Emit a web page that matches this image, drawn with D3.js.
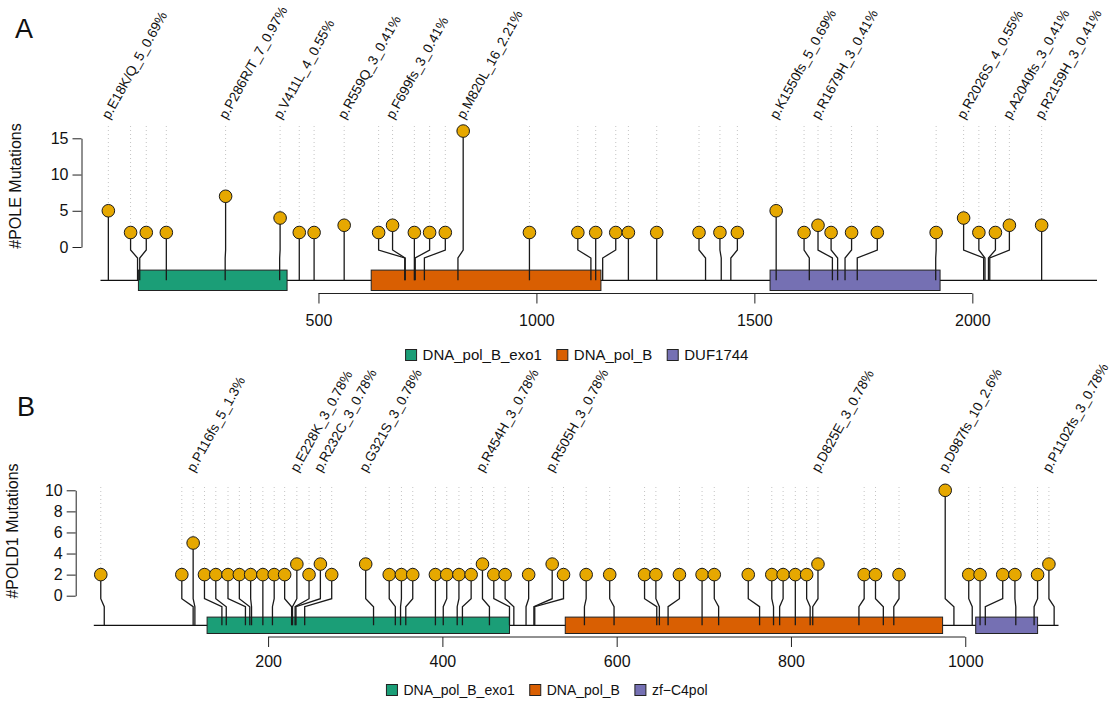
<!DOCTYPE html>
<html>
<head>
<meta charset="utf-8">
<script src="https://cdn.jsdelivr.net/npm/d3@7"></script>
<style>
  body { margin: 0; background: #fff; }
  svg { display: block; font-family: 'Liberation Sans', Arial, sans-serif; }
</style>
</head>
<body>
<svg id="chart" width="1109" height="704"></svg>
<script>
// ---- POLE ----
const poleLength = 2286
const polePos = [18, 85, 90, 151, 286, 411, 456, 490, 559, 698, 699, 720, 722, 743, 820, 984, 1125, 1136, 1152, 1211, 1276, 1388, 1424, 1446, 1550, 1626, 1679, 1691, 1708, 1736, 1916, 2026, 2029, 2037, 2040, 2159]
// where the lollipop head sits after repelling (amino-acid units)
const poleShown = [18, 69, 105, 151, 287, 412, 456, 490, 559, 638, 670, 720, 755, 791, 832, 984, 1095, 1136, 1182, 1211, 1276, 1373, 1421, 1461, 1550, 1614, 1646, 1676, 1723, 1782, 1917, 1980, 2015, 2053, 2085, 2159]
const poleCount = [5, 2, 2, 2, 7, 4, 2, 2, 3, 2, 3, 2, 2, 2, 16, 2, 2, 2, 2, 2, 2, 2, 2, 2, 5, 2, 3, 2, 2, 2, 2, 4, 2, 2, 3, 3]
const poleLabels = ['p.E18K/Q_5_0.69%', '', '', '', 'p.P286R/T_7_0.97%', 'p.V411L_4_0.55%', '', '', 'p.R559Q_3_0.41%', '',
  'p.F699fs_3_0.41%', '', '', '', 'p.M820L_16_2.21%', '', '', '', '', '', '', '', '', '', 'p.K1550fs_5_0.69%', '',
  'p.R1679H_3_0.41%', '', '', '', '', 'p.R2026S_4_0.55%', '', '', 'p.A2040fs_3_0.41%', 'p.R2159H_3_0.41%']
const poleDomains = ['DNA_pol_B_exo1', 'DNA_pol_B', 'DUF1744']
const poleDomStart = [87, 621, 1536]
const poleDomEnd = [428, 1148, 1926]
const poleYTicks = [0, 5, 10, 15]
const poleXTicks = [500, 1000, 1500, 2000]

// ---- POLD1 ----
const pold1Length = 1107
const pold1Pos = [12, 114, 116, 147, 152, 174, 179, 181, 194, 205, 227, 228, 231, 232, 242, 321, 346, 352, 358, 392, 401, 417, 423, 454, 477, 482, 496, 505, 506, 563, 597, 646, 649, 659, 698, 717, 764, 780, 787, 805, 822, 825, 878, 906, 918, 987, 1008, 1017, 1023, 1058, 1079, 1102]
const pold1Shown = [8, 101, 114, 127, 140, 154, 167, 180, 194, 207, 219, 233, 247, 260, 273, 312, 339, 353, 366, 392, 405, 419, 433, 446, 459, 472, 499, 526, 539, 565, 592, 632, 645, 672, 698, 712, 751, 778, 791, 805, 818, 831, 884, 897, 924, 977, 1004, 1017, 1043, 1057, 1083, 1096]
const pold1Count = [2, 2, 5, 2, 2, 2, 2, 2, 2, 2, 2, 3, 2, 3, 2, 3, 2, 2, 2, 2, 2, 2, 2, 3, 2, 2, 2, 3, 2, 2, 2, 2, 2, 2, 2, 2, 2, 2, 2, 2, 2, 3, 2, 2, 2, 10, 2, 2, 2, 2, 2, 3]
const pold1Labels = ['', '', 'p.P116fs_5_1.3%', '', '', '', '', '', '', '', '', 'p.E228K_3_0.78%', '', 'p.R232C_3_0.78%', '',
  'p.G321S_3_0.78%', '', '', '', '', '', '', '', 'p.R454H_3_0.78%', '', '', '', 'p.R505H_3_0.78%', '', '', '', '', '', '',
  '', '', '', '', '', '', '', 'p.D825E_3_0.78%', '', '', '', 'p.D987fs_10_2.6%', '', '', '', '', '', 'p.P1102fs_3_0.78%']
const pold1Domains = ['DNA_pol_B_exo1', 'DNA_pol_B', 'zf\u2212C4pol']
const pold1DomStart = [130, 541, 1012]
const pold1DomEnd = [477, 974, 1083]
const pold1YTicks = [0, 2, 4, 6, 8, 10]
const pold1XTicks = [200, 400, 600, 800, 1000]

const DOMAIN_COLORS = ['#1B9E77', '#D95F02', '#7570B3']
const HEAD_COLOR = '#E6A800'

const svg = d3.select('#chart')

function drawPanel (p) {
  const x = d3.scaleLinear().domain([0, p.length]).range(p.xRange)
  const y = d3.scaleLinear().domain([0, p.yTicks[p.yTicks.length - 1]]).range(p.yRange)
  const color = d3.scaleOrdinal().domain(p.domains).range(DOMAIN_COLORS)
  const g = svg.append('g')
  const y0 = y(0)

  const muts = p.pos.map((d, i) => ({ pos: d, shown: p.shown[i], count: p.count[i], label: p.labels[i] }))
  const doms = p.domains.map((d, i) => ({ name: d, start: p.domStart[i], end: p.domEnd[i] }))

  // dotted guides above each head
  g.selectAll('line.guide').data(muts).join('line')
    .attr('class', 'guide')
    .attr('x1', d => x(d.shown)).attr('x2', d => x(d.shown))
    .attr('y1', p.guideTop).attr('y2', d => y(d.count))
    .attr('stroke', '#c4c4c4').attr('stroke-width', 1)
    .attr('stroke-dasharray', '1,3')

  // protein backbone
  g.append('line')
    .attr('x1', x(0)).attr('x2', x(p.length))
    .attr('y1', p.backbone).attr('y2', p.backbone)
    .attr('stroke', '#111').attr('stroke-width', 1.3)

  g.selectAll('rect.dom').data(doms).join('rect')
    .attr('class', 'dom')
    .attr('x', d => x(d.start))
    .attr('width', d => x(d.end) - x(d.start))
    .attr('y', p.backbone - p.domHalf)
    .attr('height', p.domHalf * 2)
    .attr('fill', d => color(d.name))
    .attr('stroke', '#222').attr('stroke-width', 1)

  // stems: up from true position, kink over to the repelled head
  g.selectAll('path.stem').data(muts).join('path')
    .attr('class', 'stem')
    .attr('d', d => `M${x(d.pos)},${p.backbone}V${y0 + 11}L${x(d.shown)},${y0 + 3}V${y(d.count)}`)
    .attr('fill', 'none').attr('stroke', '#1a1a1a').attr('stroke-width', 1.3)

  g.selectAll('circle.head').data(muts).join('circle')
    .attr('class', 'head')
    .attr('cx', d => x(d.shown)).attr('cy', d => y(d.count))
    .attr('r', 6.3)
    .attr('fill', HEAD_COLOR).attr('stroke', '#1a1a1a').attr('stroke-width', 1)

  g.selectAll('text.mlab').data(muts.filter(d => d.label)).join('text')
    .attr('class', 'mlab')
    .attr('transform', d => `translate(${x(d.shown) + 1},${p.labelBase}) rotate(-61)`)
    .attr('font-size', 13.6)
    .attr('fill', '#111')
    .text(d => d.label)

  // y axis
  const yAxis = g.append('g')
    .attr('transform', `translate(${p.yAxisX},0)`)
    .call(d3.axisLeft(y).tickValues(p.yTicks).tickSize(9).tickSizeOuter(0).tickPadding(4))
  yAxis.selectAll('text').attr('font-size', 16).attr('fill', '#111').attr('font-family', null)
  yAxis.selectAll('path, line').attr('stroke', '#222')

  // x axis, line only between first and last tick
  const xAxis = g.append('g')
    .attr('transform', `translate(0,${p.xAxisY})`)
    .call(d3.axisBottom(x).tickValues(p.xTicks).tickFormat(d3.format('d')).tickSize(10).tickPadding(p.xPad))
  xAxis.select('.domain').remove()
  xAxis.append('line')
    .attr('x1', x(p.xTicks[0])).attr('x2', x(p.xTicks[p.xTicks.length - 1]))
    .attr('stroke', '#222')
  xAxis.selectAll('text').attr('font-size', 16).attr('fill', '#111').attr('font-family', null)
  xAxis.selectAll('line').attr('stroke', '#222')

  g.append('text')
    .attr('transform', `translate(${p.yTitle[0]},${p.yTitle[1]}) rotate(-90)`)
    .attr('text-anchor', 'middle')
    .attr('font-size', 16)
    .attr('fill', '#111')
    .text(p.yLabel)

  g.append('text')
    .attr('x', p.letter[0]).attr('y', p.letter[1])
    .attr('font-size', 27)
    .attr('fill', '#111')
    .text(p.letterText)

  // legend, centred on legendX
  const leg = g.append('g')
  const items = leg.selectAll('g').data(doms).join('g')
  items.append('rect')
    .attr('width', 11).attr('height', 11)
    .attr('y', p.legendY - 5.5)
    .attr('fill', d => color(d.name))
    .attr('stroke', '#222').attr('stroke-width', 1)
  items.append('text')
    .attr('x', 17).attr('y', p.legendY).attr('dy', '0.35em')
    .attr('font-size', p.legendFont).attr('fill', '#111')
    .text(d => d.name)
  let cursor = 0
  items.each(function () {
    const w = 17 + d3.select(this).select('text').node().getComputedTextLength()
    d3.select(this).attr('transform', `translate(${cursor},0)`)
    cursor += w + 15
  })
  const total = cursor - 15
  leg.attr('transform', `translate(${p.legendX - total / 2},0)`)
}

drawPanel({
  length: poleLength, pos: polePos, shown: poleShown, count: poleCount, labels: poleLabels,
  domains: poleDomains, domStart: poleDomStart, domEnd: poleDomEnd,
  yTicks: poleYTicks, xTicks: poleXTicks,
  xRange: [100.5, 1097], yRange: [247, 138.3],
  backbone: 280.3, domHalf: 10.2, guideTop: 126, labelBase: 120,
  yAxisX: 81.5, xAxisY: 293.5, xPad: 11,
  yTitle: [21, 186], yLabel: '#POLE Mutations',
  letter: [15, 38], letterText: 'A',
  legendX: 577, legendY: 355, legendFont: 15
})

drawPanel({
  length: pold1Length, pos: pold1Pos, shown: pold1Shown, count: pold1Count, labels: pold1Labels,
  domains: pold1Domains, domStart: pold1DomStart, domEnd: pold1DomEnd,
  yTicks: pold1YTicks, xTicks: pold1XTicks,
  xRange: [93.8, 1058.5], yRange: [595.7, 490.3],
  backbone: 625.3, domHalf: 8.2, guideTop: 487, labelBase: 473,
  yAxisX: 75.7, xAxisY: 637, xPad: 9,
  yTitle: [18, 531], yLabel: '#POLD1 Mutations',
  letter: [17, 416], letterText: 'B',
  legendX: 547, legendY: 690, legendFont: 14
})
</script>
</body>
</html>
